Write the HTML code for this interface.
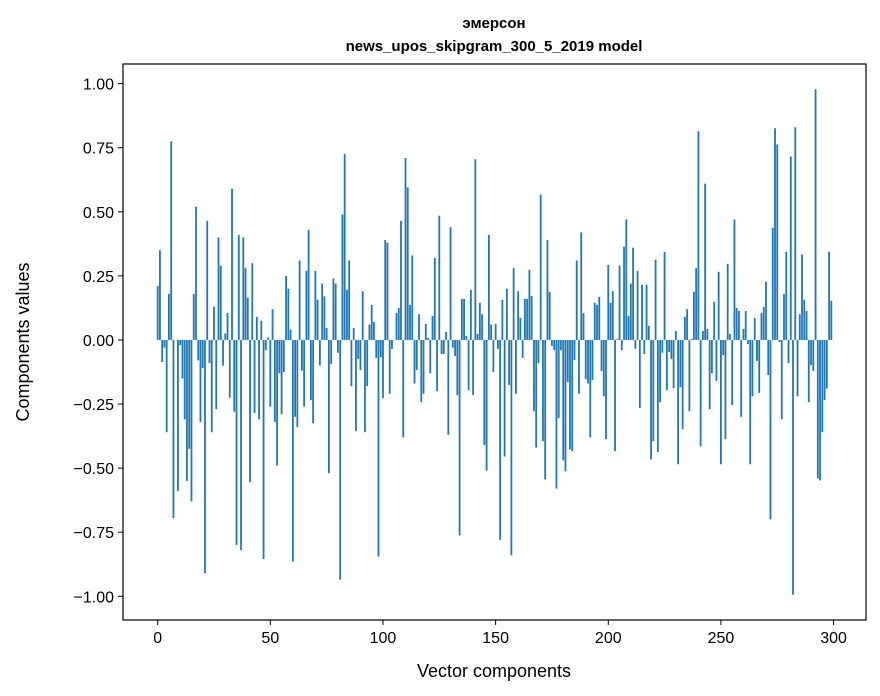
<!DOCTYPE html>
<html><head><meta charset="utf-8"><style>
html,body{margin:0;padding:0;background:#fff;}
svg{display:block;font-family:"Liberation Sans","DejaVu Sans",sans-serif;}
</style></head><body>
<svg id="chart" width="880" height="696" viewBox="0 0 880 696" xmlns="http://www.w3.org/2000/svg">
<rect x="0" y="0" width="880" height="696" fill="#fff"/>
<text x="494" y="28" text-anchor="middle" font-size="15" font-weight="bold">эмерсон</text>
<text x="494" y="51" text-anchor="middle" font-size="15" font-weight="bold">news_upos_skipgram_300_5_2019 model</text>
<g id="bars"></g>
<g id="xticks"></g>
<g id="yticks"></g>
<rect x="123" y="64" width="743" height="556" fill="none" stroke="#000" stroke-width="1.2"/>
<text x="494" y="677" text-anchor="middle" font-size="18">Vector components</text>
<text x="29" y="342" text-anchor="middle" font-size="18" transform="rotate(-90 29 342)">Components values</text>
</svg>
<script>
const values = [
0.21,0.35,-0.086,-0.03,-0.36,0.18,0.775,-0.695,0,-0.59,
-0.02,-0.15,-0.31,-0.55,-0.425,-0.63,0.18,0.52,-0.08,-0.32,
-0.11,-0.91,0.465,-0.09,-0.36,0.13,-0.27,0.40,0.29,-0.1,
0.025,0.105,-0.225,0.59,-0.28,-0.80,0.41,-0.82,0.40,0.28,
0.165,-0.555,0.30,-0.285,0.09,-0.31,0.075,-0.855,-0.04,0.01,
-0.26,
0.12,-0.32,-0.49,-0.13,-0.29,-0.125,0.25,0.20,0.04,-0.865,
-0.30,-0.34,0.31,-0.12,-0.26,0.27,0.43,-0.235,-0.325,0.27,
0.157,-0.1,0.22,0.17,0.047,-0.52,-0.094,0.24,0.22,-0.05,
-0.935,0.49,0.725,0.195,0.31,-0.18,0.047,-0.355,-0.074,-0.117,
0.19,-0.36,-0.18,0.06,0.137,0.07,-0.07,-0.845,-0.067,-0.227,
0.39,0.38,-0.21,-0.035,0,0.105,0.125,0.465,-0.38,0.71,
0.595,0.137,0.33,-0.17,-0.117,0.10,-0.243,-0.21,0.063,0.008,
-0.13,0.094,0.32,-0.2,0.485,-0.055,-0.055,0.031,-0.37,0.44,
-0.03,-0.063,-0.215,-0.763,0.16,0.16,0.016,-0.196,0.195,-0.215,
0.705,0.023,0.145,0.10,-0.41,-0.51,0.41,0.06,-0.125,0.063,
-0.035,-0.78,
0.157,-0.455,0.2,-0.176,-0.84,0.28,-0.21,0.19,0.086,-0.07,
0.16,0.16,0.274,0.172,-0.278,-0.42,-0.09,0.567,-0.395,-0.544,
0.39,0.188,-0.023,-0.04,-0.58,-0.305,-0.04,-0.47,-0.513,-0.164,
-0.427,-0.434,-0.078,0.31,-0.21,0.42,0.105,-0.153,-0.17,-0.38,
-0.157,0.145,0.137,0.168,-0.121,-0.22,-0.387,0.293,0.145,0.19,
-0.434,
0.004,0.29,-0.04,0.364,0.47,0.094,0.22,0.36,-0.035,0.27,
-0.266,0.215,-0.055,0.215,0.055,-0.466,-0.395,0.313,-0.438,-0.243,
-0.05,0.344,-0.196,-0.047,-0.074,-0.188,0.035,-0.485,-0.184,-0.348,
0.09,0.12,-0.278,0.004,0.188,0.28,0.814,-0.415,0.035,0.61,
0.043,-0.27,-0.13,0.149,-0.16,0.266,-0.485,-0.059,-0.387,0.297,
0.023,
-0.254,0.47,0.125,0.113,-0.30,0.043,0.113,-0.016,-0.485,-0.22,
0.086,-0.082,-0.207,0.105,0.129,0.227,-0.137,-0.70,0.438,0.826,
0.763,-0.008,-0.31,0.18,0.344,-0.09,0.716,-0.994,0.83,-0.22,
0.10,0.333,0.157,0.113,-0.243,-0.098,-0.121,0.978,-0.54,-0.548,
-0.36,-0.235,-0.19,0.344,0.153
];
const xTicks = [0,50,100,150,200,250,300];
const yTicks = [-1.00,-0.75,-0.50,-0.25,0.00,0.25,0.50,0.75,1.00];
const yTickLabels = ["\u22121.00","\u22120.75","\u22120.50","\u22120.25","0.00","0.25","0.50","0.75","1.00"];

const NS = "http://www.w3.org/2000/svg";
const L = 123, R = 866, T = 64, B = 620;
const n = values.length;
const bw = 0.8;
const xmin0 = -bw/2, xmax0 = n - 1 + bw/2;
const xpad = (xmax0 - xmin0) * 0.05;
const xmin = xmin0 - xpad, xmax = xmax0 + xpad;
const vmin = Math.min(0, ...values), vmax = Math.max(0, ...values);
const ypad = (vmax - vmin) * 0.05;
const ymin = vmin - ypad, ymax = vmax + ypad;
function xs(v){ return L + (v - xmin) / (xmax - xmin) * (R - L); }
function ys(v){ return B - (v - ymin) / (ymax - ymin) * (B - T); }

const gb = document.getElementById('bars');
values.forEach((v, i) => {
  const r = document.createElementNS(NS, 'rect');
  const x0 = xs(i - bw/2), x1 = xs(i + bw/2);
  const y0 = ys(Math.max(v, 0)), y1 = ys(Math.min(v, 0));
  r.setAttribute('x', x0.toFixed(2));
  r.setAttribute('width', (x1 - x0).toFixed(2));
  r.setAttribute('y', y0.toFixed(2));
  r.setAttribute('height', Math.max(y1 - y0, 0.01).toFixed(2));
  r.setAttribute('fill', '#1f77b4');
  
  
  gb.appendChild(r);
});

const gx = document.getElementById('xticks');
xTicks.forEach(t => {
  const x = xs(t);
  const ln = document.createElementNS(NS, 'line');
  ln.setAttribute('x1', x); ln.setAttribute('x2', x);
  ln.setAttribute('y1', B); ln.setAttribute('y2', B + 5);
  ln.setAttribute('stroke', '#000'); ln.setAttribute('stroke-width', '1');
  
  
  gx.appendChild(ln);
  const tx = document.createElementNS(NS, 'text');
  tx.setAttribute('x', x); tx.setAttribute('y', B + 23);
  tx.setAttribute('text-anchor', 'middle'); tx.setAttribute('font-size', '16');
  tx.textContent = String(t);
  
  
  gx.appendChild(tx);
});

const gy = document.getElementById('yticks');
yTicks.forEach((t, k) => {
  const y = ys(t);
  const ln = document.createElementNS(NS, 'line');
  ln.setAttribute('x1', L - 5); ln.setAttribute('x2', L);
  ln.setAttribute('y1', y); ln.setAttribute('y2', y);
  ln.setAttribute('stroke', '#000'); ln.setAttribute('stroke-width', '1');
  
  
  gy.appendChild(ln);
  const tx = document.createElementNS(NS, 'text');
  tx.setAttribute('x', L - 9); tx.setAttribute('y', y + 6);
  tx.setAttribute('text-anchor', 'end'); tx.setAttribute('font-size', '16');
  tx.textContent = yTickLabels[k];
  
  
  gy.appendChild(tx);
});
</script>
</body></html>
